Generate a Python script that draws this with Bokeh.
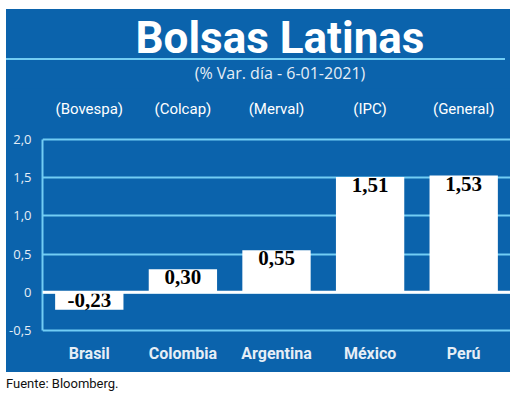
from bokeh.plotting import figure
from bokeh.models import (ColumnDataSource, FactorRange, Range1d, FixedTicker,
                          CategoricalAxis, Div, Span)
from bokeh.layouts import column
from bokeh.core.properties import value
from bokeh.embed import file_html
from bokeh.resources import INLINE

paises = ["Brasil", "Colombia", "Argentina", "México", "Perú"]
indices = ["(Bovespa)", "(Colcap)", "(Merval)", "(IPC)", "(General)"]
variacion = [-0.23, 0.30, 0.55, 1.51, 1.53]
etiquetas = ["-0,23", "0,30", "0,55", "1,51", "1,53"]
y_ticks = [-0.5, 0, 0.5, 1.0, 1.5, 2.0]
y_tick_labels = ["-0,5", "0", "0,5", "1,0", "1,5", "2,0"]
titulo = "Bolsas Latinas"
subtitulo = "(% Var. día - 6-01-2021)"
fuente_txt = "Fuente: Bloomberg."

BLUE = "#0b63ac"
GRID = "#72cdf4"
LIGHT = "#e6eef6"
SANS = "Roboto"

src = ColumnDataSource(dict(
    pais=paises, v=variacion, lab=etiquetas,
    ly=[max(x, 0) for x in variacion],
))

# ---- header (title, rule, subtitle) ----
header_html = f"""
<div style="position:relative;width:504px;height:80px;background:{BLUE};overflow:hidden;">
  <div style="position:absolute;left:0;width:548px;top:7px;text-align:center;
              font-family:Roboto;font-weight:bold;font-size:44px;line-height:1;color:white;">{titulo}</div>
  <div style="position:absolute;left:0;width:499px;top:49px;height:2px;background:{GRID};"></div>
  <div style="position:absolute;left:0;width:548px;top:56px;text-align:center;
              font-family:'Open Sans';font-size:16px;line-height:1;color:{LIGHT};">{subtitulo}</div>
</div>
"""
header = Div(text=header_html, width=504, height=79, margin=0)

# ---- chart ----
p = figure(x_range=FactorRange(*paises, range_padding=0), y_range=Range1d(-0.53, 2.03),
           width=504, height=284, output_backend="svg", toolbar_location=None,
           min_border_left=36, min_border_right=0, min_border_top=49, min_border_bottom=40)
p.margin = 0
p.background_fill_color = BLUE
p.border_fill_color = BLUE
p.outline_line_color = None
p.extra_x_ranges = {"idx": FactorRange(*indices, range_padding=0)}

p.xgrid.grid_line_color = None
p.ygrid.ticker = FixedTicker(ticks=y_ticks)
p.ygrid.grid_line_color = GRID
p.ygrid.grid_line_width = 2

p.yaxis.ticker = FixedTicker(ticks=y_ticks)
p.yaxis.major_label_overrides = {t: l for t, l in zip(y_ticks, y_tick_labels)}
p.yaxis.bounds = (-0.5, 2.0)
p.yaxis.axis_line_color = GRID
p.yaxis.axis_line_width = 2
p.yaxis.major_tick_line_color = None
p.yaxis.minor_tick_line_color = None
p.yaxis.major_label_text_color = LIGHT
p.yaxis.major_label_text_font = "Open Sans"
p.yaxis.major_label_text_font_size = "13px"
p.yaxis.major_label_standoff = 5

p.xaxis.axis_line_color = None
p.xaxis.major_tick_line_color = None
p.xaxis.minor_tick_line_color = None
p.xaxis.major_label_text_color = LIGHT
p.xaxis.major_label_text_font = SANS
p.xaxis.major_label_text_font_size = "16px"
p.xaxis.major_label_text_font_style = "bold"
p.xaxis.major_label_standoff = 5

top = CategoricalAxis(x_range_name="idx", axis_line_color=None, major_tick_line_color=None,
                      minor_tick_line_color=None,
                      major_label_text_color="white", major_label_text_font=SANS,
                      major_label_text_font_size="15px", major_label_standoff=14)
p.add_layout(top, "above")

p.vbar(x="pais", top="v", bottom=0, width=0.73, source=src,
       fill_color="white", line_color=None)
p.add_layout(Span(location=0, dimension="width", line_color="white", line_width=3))

p.text(x="pais", y="ly", text="lab", source=src, text_align="center",
       text_baseline="top", text_font=value("Liberation Serif"),
       text_font_style="bold", text_font_size="21px", text_color="black", y_offset=1)

panel = column(header, p, spacing=0, margin=(9, 10, 0, 6),
               styles={"background-color": BLUE})

fuente = Div(text=fuente_txt, margin=(3, 0, 0, 6),
             styles={"font-family": SANS, "font-size": "13px", "color": "#111"})

layout = column(panel, fuente, spacing=0)
open("out.html", "w").write(file_html(layout, INLINE))
